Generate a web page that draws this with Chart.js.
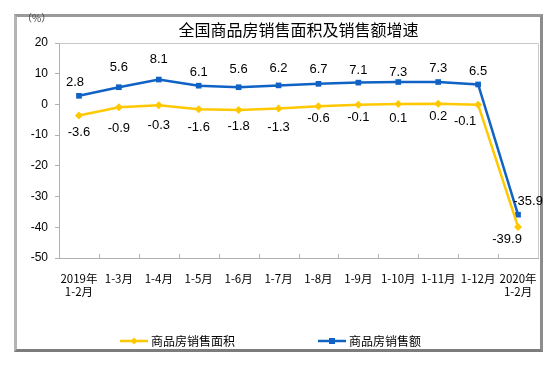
<!DOCTYPE html>
<html>
<head>
<meta charset="utf-8">
<script src="https://cdn.jsdelivr.net/npm/chart.js@4"></script>
<style>
  html, body { margin: 0; padding: 0; background: #fff; }
  #frame {
    position: absolute; left: 14px; top: 14px; width: 523px; height: 332px;
    border-left: 3px solid #b4b4b4; border-top: 3px solid #9a9a9a;
    border-right: 3px solid #8c8c8c; border-bottom: 3px solid #7c7c7c;
  }
  #sales_chart { position: absolute; left: 0; top: 0; }
</style>
</head>
<body>
<div id="frame"></div>
<canvas id="sales_chart" width="558" height="366"></canvas>
<script>
var categories = [['2019年', '1-2月'], '1-3月', '1-4月', '1-5月', '1-6月', '1-7月', '1-8月', '1-9月', '1-10月', '1-11月', '1-12月', ['2020年', '1-2月']];
var areaGrowth = [-3.6, -0.9, -0.3, -1.6, -1.8, -1.3, -0.6, -0.1, 0.1, 0.2, -0.1, -39.9];
var amountGrowth = [2.8, 5.6, 8.1, 6.1, 5.6, 6.2, 6.7, 7.1, 7.3, 7.3, 6.5, -35.9];
var yTicks = [-50, -40, -30, -20, -10, 0, 10, 20];

var chartTitle = '全国商品房销售面积及销售额增速';
var yUnit = '（%）';

// label nudges, as placed in the original
var amountLabelDy = [-13, -20, -20, -13, -18, -17, -14, -12, -10, -14, -13, -13];
var amountLabelDx = [-4, 0, 0, 0, 0, 0, 0, 0, 0, 0, 0, 10];
var areaLabelDy = [17, 21, 20, 18, 16, 19, 12, 13, 14, 13, 17, 12];
var areaLabelDx = [0, 0, 0, 0, 0, 0, 0, 0, 0, 0, -13, -11];

var yellow = '#ffc800';
var blue = '#1062c4';

var extras = {
    id: 'extras',
    afterDatasetsDraw: function (chart) {
        var ctx = chart.ctx;
        var area = chart.chartArea;
        var xs = chart.scales.x;
        ctx.save();

        // plot border (top/right light)
        ctx.strokeStyle = '#c8c8c8';
        ctx.lineWidth = 1;
        ctx.beginPath();
        ctx.moveTo(area.left, area.top + 0.5);
        ctx.lineTo(area.right + 0.5, area.top + 0.5);
        ctx.lineTo(area.right + 0.5, area.bottom);
        ctx.stroke();

        // small tick marks between categories
        ctx.strokeStyle = '#b0b0b0';
        ctx.beginPath();
        for (var i = 1; i < categories.length; i++) {
            var bx = Math.round((xs.getPixelForValue(i - 1) + xs.getPixelForValue(i)) / 2) + 0.5;
            ctx.moveTo(bx, area.bottom);
            ctx.lineTo(bx, area.bottom - 4);
        }
        ctx.stroke();

        // value labels
        ctx.fillStyle = '#000';
        ctx.font = '13px "Liberation Sans", Arial, sans-serif';
        ctx.textAlign = 'center';
        ctx.textBaseline = 'middle';
        var m1 = chart.getDatasetMeta(1);
        m1.data.forEach(function (p, i) {
            ctx.fillText(amountGrowth[i].toFixed(1), p.x + amountLabelDx[i], p.y + amountLabelDy[i]);
        });
        var m0 = chart.getDatasetMeta(0);
        m0.data.forEach(function (p, i) {
            ctx.fillText(areaGrowth[i].toFixed(1), p.x + areaLabelDx[i], p.y + areaLabelDy[i]);
        });

        // title
        ctx.font = '16px "Noto Sans CJK SC", sans-serif';
        ctx.fillText(chartTitle, (area.left + area.right) / 2, 30);

        // unit
        ctx.font = '10px "Noto Sans CJK SC", sans-serif';
        ctx.textAlign = 'left';
        ctx.fillStyle = '#444';
        ctx.fillText(yUnit, 22, 18);

        // legend
        var legendY = 341;
        var items = [
            { x: 120, color: yellow, style: 'diamond', label: chart.data.datasets[0].label },
            { x: 318, color: blue, style: 'square', label: chart.data.datasets[1].label }
        ];
        items.forEach(function (it) {
            ctx.strokeStyle = it.color;
            ctx.fillStyle = it.color;
            ctx.lineWidth = 2.5;
            ctx.beginPath();
            ctx.moveTo(it.x, legendY);
            ctx.lineTo(it.x + 28, legendY);
            ctx.stroke();
            var cx = it.x + 14;
            if (it.style === 'diamond') {
                ctx.beginPath();
                ctx.moveTo(cx, legendY - 3.5);
                ctx.lineTo(cx + 3.5, legendY);
                ctx.lineTo(cx, legendY + 3.5);
                ctx.lineTo(cx - 3.5, legendY);
                ctx.closePath();
                ctx.fill();
            } else {
                ctx.fillRect(cx - 3, legendY - 3, 6, 6);
            }
            ctx.fillStyle = '#000';
            ctx.font = '12px "Noto Sans CJK SC", sans-serif';
            ctx.textAlign = 'left';
            ctx.fillText(it.label, it.x + 31, legendY);
        });

        ctx.restore();
    }
};

new Chart(document.getElementById('sales_chart').getContext('2d'), {
    type: 'line',
    data: {
        labels: categories,
        datasets: [{
            label: '商品房销售面积',
            data: areaGrowth,
            borderColor: yellow,
            backgroundColor: yellow,
            borderWidth: 2.5,
            pointStyle: 'rectRot',
            pointRadius: 4,
            pointBorderWidth: 0,
            pointBackgroundColor: yellow,
            tension: 0
        }, {
            label: '商品房销售额',
            data: amountGrowth,
            borderColor: blue,
            backgroundColor: blue,
            borderWidth: 2.5,
            pointStyle: 'rect',
            pointRadius: 4,
            pointBorderWidth: 0,
            pointBackgroundColor: blue,
            tension: 0
        }]
    },
    options: {
        responsive: false,
        animation: false,
        layout: { padding: { left: 14, right: 20, top: 43, bottom: 58 } },
        plugins: {
            legend: { display: false },
            title: { display: false },
            tooltip: { enabled: false }
        },
        scales: {
            x: {
                offset: true,
                afterFit: function (s) { s.height = 50; },
                grid: { display: false },
                border: { display: true, color: '#b0b0b0', width: 1 },
                ticks: {
                    color: '#000',
                    padding: 6,
                    maxRotation: 0,
                    autoSkip: false,
                    font: { family: '"Noto Sans CJK SC", sans-serif', size: 11.5, lineHeight: 1.15 }
                }
            },
            y: {
                min: -50,
                max: 20,
                afterFit: function (s) { s.width = 45; },
                afterBuildTicks: function (s) {
                    s.ticks = yTicks.map(function (v) { return { value: v }; });
                },
                grid: { drawOnChartArea: false, drawTicks: true, tickLength: 4, color: '#b0b0b0' },
                border: { display: true, color: '#b0b0b0', width: 1 },
                ticks: {
                    color: '#000',
                    padding: 7,
                    font: { family: '"Liberation Sans", Arial, sans-serif', size: 12 }
                }
            }
        }
    },
    plugins: [extras]
});
</script>
</body>
</html>
